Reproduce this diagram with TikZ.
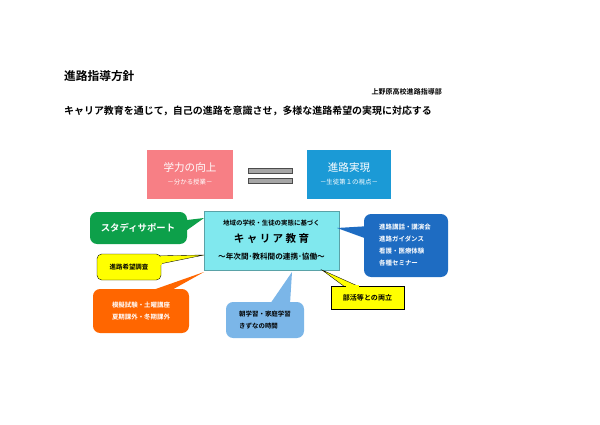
\documentclass[tikz,border=0pt]{standalone}
\usepackage{fontspec}
\setmainfont{Noto Sans CJK JP}[BoldFont={* Bold}]
\usetikzlibrary{positioning}
\definecolor{pinkbox}{HTML}{F77F85}
\definecolor{bluebox}{HTML}{1B9AD6}
\definecolor{cyanbox}{HTML}{80E8EE}
\definecolor{greenbox}{HTML}{0DA04A}
\definecolor{navybox}{HTML}{1E6CC2}
\definecolor{orangebox}{HTML}{FF6600}
\definecolor{skybox}{HTML}{7BB6E8}
\definecolor{yellowbox}{HTML}{FFFF00}
\begin{document}
\begin{tikzpicture}[x=0.03cm, y=-0.03cm,
        goal/.style={align=center, text=white, inner sep=0pt},
        bubble/.style={rounded corners=6pt, align=left, inner sep=0pt},
        tail/.style={line join=round},
        eqbar/.style={draw=black!70, fill=gray!70, line width=0.4pt}
    ]
        \useasboundingbox (0,0) rectangle (600,424);

        % Heading
        \node[anchor=west, font=\bfseries\fontsize{10}{12}\selectfont] (title) at (60,76) {進路指導方針};
        \node[anchor=east, font=\bfseries\fontsize{6}{7}\selectfont] (dept) at (446,92) {上野原高校進路指導部};
        \node[anchor=west, font=\bfseries\fontsize{8.5}{10}\selectfont] (policy) at (60,111) {キャリア教育を通じて，自己の進路を意識させ，多様な進路希望の実現に対応する};

        % Goals
        \fill[pinkbox] (147,150) rectangle (233,199);
        \node[goal] (study) at (190,174) {\fontsize{9}{14}\selectfont 学力の向上\\[-1pt] \fontsize{5.5}{7}\selectfont －分かる授業－};
        \fill[bluebox] (307,150) rectangle (391,199);
        \node[goal] (career) at (349,174) {\fontsize{9}{14}\selectfont 進路実現\\[-1pt] \fontsize{5.5}{7}\selectfont －生徒第１の視点－};
        \draw[eqbar] (248,168) rectangle (292,173);
        \draw[eqbar] (248,178) rectangle (292,183);

        % Centre
        \draw[fill=cyanbox, draw=cyanbox!70!black, line width=0.3pt] (204,211) rectangle (339,270);
        \node[align=center, font=\bfseries] (core) at (271.5,240) {\fontsize{5.5}{7}\selectfont 地域の学校・生徒の実態に基づく\\[3pt]
            \fontsize{9}{11}\selectfont キ ャ リ ア 教 育\\[2pt] \fontsize{6.5}{8}\selectfont ～年次間･教科間の連携･協働～};

        % Callouts
        \fill[greenbox] (170,222) -- (204,218) -- (176,238) -- cycle;
        \fill[greenbox, rounded corners=6pt] (90,212) rectangle (187,244);
        \node[text=white, font=\bfseries\fontsize{8}{10}\selectfont] (support) at (138,228) {スタディサポート};

        \fill[navybox] (370,226) -- (337,228) -- (370,240) -- cycle;
        \fill[navybox, rounded corners=6pt] (364,214) rectangle (448,277);
        \node[text=white, align=left, font=\bfseries\fontsize{5.5}{10}\selectfont] (events) at (405,245)
            {進路講話・講演会\\進路ガイダンス\\看護・医療体験\\各種セミナー};

        \filldraw[fill=yellowbox, draw=black, line width=0.3pt] (150,256) -- (204,255) -- (150,266);
        \filldraw[fill=yellowbox, draw=black, line width=0.3pt, rounded corners=4pt] (97,254) rectangle (161,280);
        \fill[yellowbox] (159.7,257) rectangle (162,265);
        \node[font=\bfseries\fontsize{5.5}{7}\selectfont] (survey) at (129,267) {進路希望調査};

        \fill[orangebox] (150,291) -- (204,272) -- (170,291) -- cycle;
        \fill[orangebox, rounded corners=6pt] (93,289) rectangle (189,333);
        \node[text=white, align=left, font=\bfseries\fontsize{5.5}{10}\selectfont] (exams) at (141,311)
            {模擬試験・土曜講座\\夏期課外・冬期課外};

        \fill[skybox] (270,304) -- (292,272) -- (290,304) -- cycle;
        \fill[skybox, rounded corners=6pt] (226,302) rectangle (304,338);
        \node[align=left, font=\bfseries\fontsize{5.5}{10}\selectfont] (daily) at (265,320)
            {朝学習・家庭学習\\きずなの時間};

        \filldraw[fill=yellowbox, draw=black, line width=0.3pt] (345,287) -- (322,270) -- (360,287);
        \filldraw[fill=yellowbox, draw=black, line width=0.3pt] (331,286) rectangle (404,309);
        \fill[yellowbox] (346,285.2) rectangle (359,287);
        \node[font=\bfseries\fontsize{6}{7}\selectfont] (clubs) at (367.5,297.5) {部活等との両立};
\end{tikzpicture}
\end{document}
